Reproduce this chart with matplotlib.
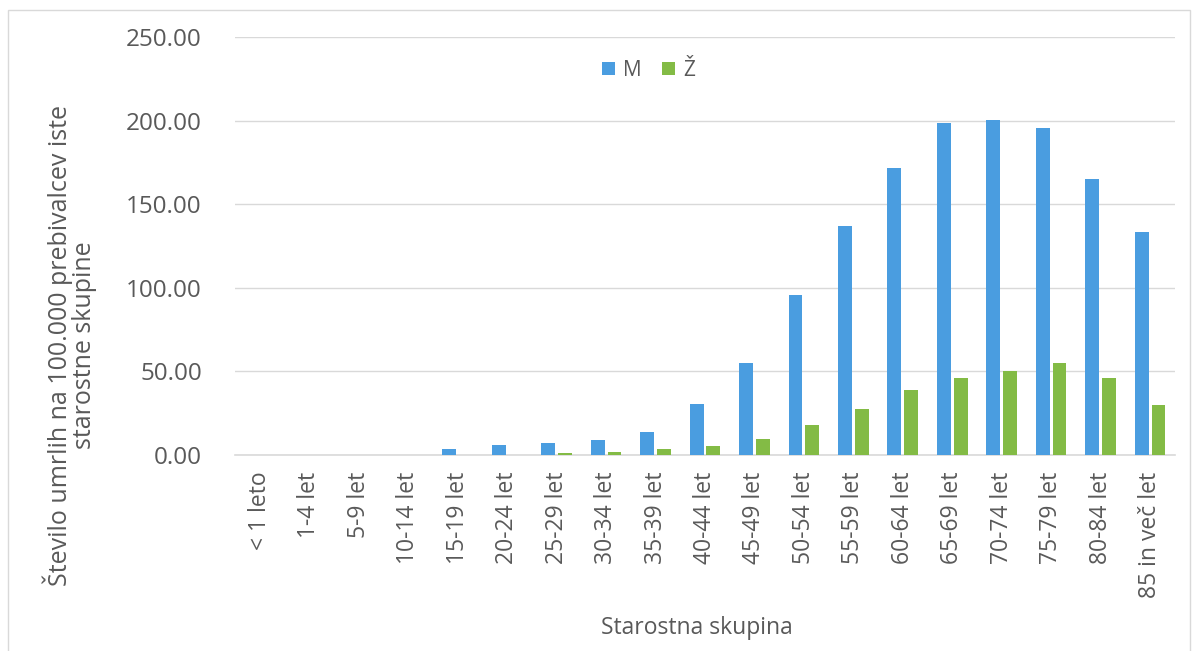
import matplotlib
matplotlib.use("Agg")
import matplotlib.pyplot as plt
import matplotlib.patches as mpatches
import numpy as np

plt.rcParams["font.family"] = ["Open Sans", "DejaVu Sans"]

# podatki
categories = ["< 1 leto", "1-4 let", "5-9 let", "10-14 let", "15-19 let", "20-24 let",
              "25-29 let", "30-34 let", "35-39 let", "40-44 let", "45-49 let", "50-54 let",
              "55-59 let", "60-64 let", "65-69 let", "70-74 let", "75-79 let", "80-84 let",
              "85 in več let"]
moski = [0, 0, 0, 0, 3.6, 6.0, 7.0, 9.0, 13.5, 30.5, 55.0, 95.7, 137.0, 171.6, 198.6,
         200.4, 195.6, 165.0, 133.4]
zenske = [0, 0, 0, 0, 0, 0, 1.0, 1.8, 3.6, 5.4, 9.6, 18.0, 27.5, 39.0, 46.0, 50.0,
          55.0, 46.0, 30.0]
yticks = [0, 50, 100, 150, 200, 250]

blue = "#4a9de0"
green = "#83bb45"
grey = "#595959"

fig = plt.figure(figsize=(12, 6.51), dpi=100)
ax = fig.add_axes([0.196, 0.301, 0.783, 0.642])

x = np.arange(len(categories))
w = 0.28
gap = 0.06
ax.bar(x - w / 2 - gap / 2, moski, width=w, color=blue, label="M", zorder=3)
ax.bar(x + w / 2 + gap / 2, zenske, width=w, color=green, label="Ž", zorder=3)

ax.set_xlim(-0.5, len(categories) - 0.5)
ax.set_ylim(0, 250)
ax.set_yticks(yticks)
ax.set_yticklabels([f"{v:.2f}" for v in yticks], fontsize=17.5, color=grey)
ax.set_xticks(x)
ax.set_xticklabels(categories, rotation=90, fontsize=16.5, color=grey)
ax.tick_params(axis="both", length=0)
ax.tick_params(axis="x", pad=12)
ax.tick_params(axis="y", pad=24)

ax.grid(axis="y", color="#d9d9d9", linewidth=1, zorder=0)
for s in ["top", "right", "left"]:
    ax.spines[s].set_visible(False)
ax.spines["bottom"].set_color("#d9d9d9")
ax.spines["bottom"].set_linewidth(1.2)

fig.text(0.581, 0.035, "Starostna skupina", fontsize=16.5, color=grey,
         ha="center", va="center")
fig.text(0.058, 0.47, "Število umrlih na 100.000 prebivalcev iste\nstarostne skupine",
         fontsize=18, color=grey, rotation=90, ha="center", va="center",
         multialignment="center", linespacing=0.95)

ax.legend(loc="center", bbox_to_anchor=(0.44, 0.921), ncol=2, frameon=False,
          fontsize=15, handlelength=0.6, handleheight=0.6, columnspacing=1.0,
          handletextpad=0.4, labelcolor=grey)

border = mpatches.Rectangle((0.007, -0.02), 0.985, 1.005, transform=fig.transFigure,
                            fill=False, edgecolor="#d9d9d9", linewidth=1)
fig.patches.append(border)

fig.savefig("out.png", dpi=100, facecolor="white")
